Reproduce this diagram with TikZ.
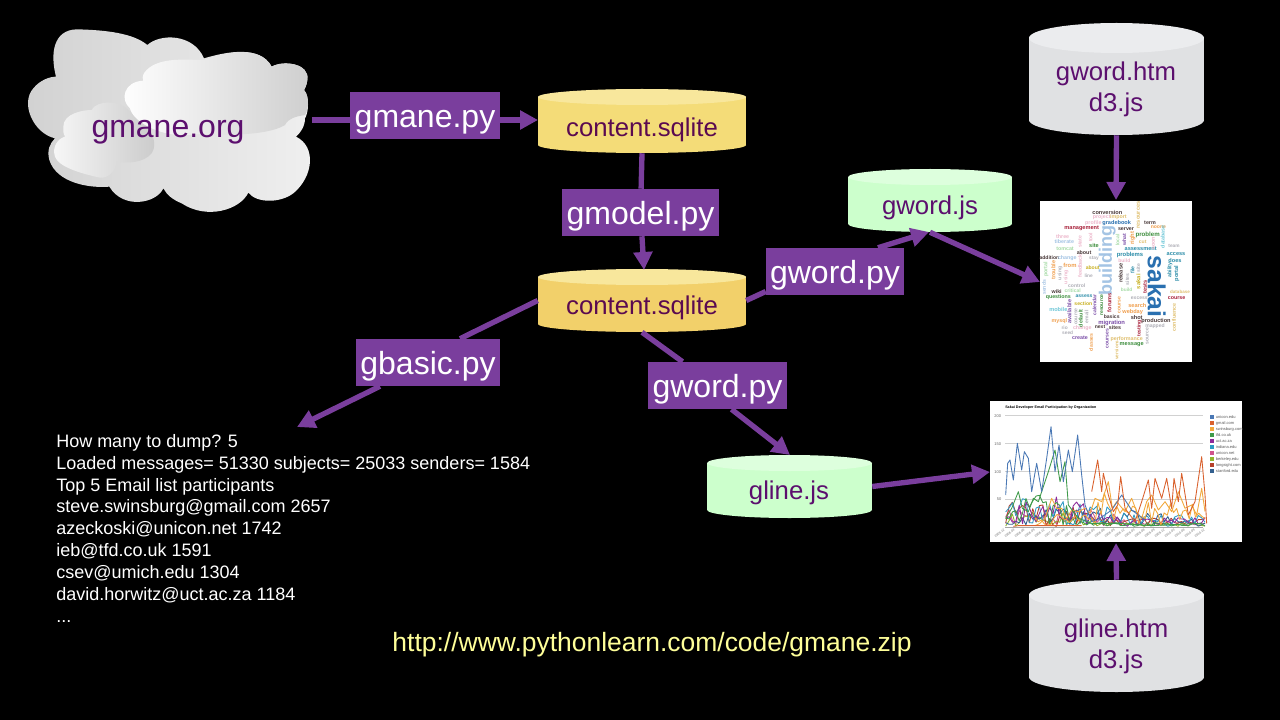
\documentclass[tikz,border=0pt]{standalone}
\usepackage{fontspec}
\setmainfont{Liberation Sans}
\usetikzlibrary{arrows.meta,calc}
\definecolor{pur}{HTML}{7A3E9D}
\definecolor{ptext}{HTML}{5C0F6E}
\definecolor{ptextb}{HTML}{5A0A50}
\definecolor{ylw}{HTML}{F4DC78}
\definecolor{ylwb}{HTML}{F2D06A}
\definecolor{ylwtop}{HTML}{F8E79C}
\definecolor{grn}{HTML}{CCFFCC}
\definecolor{grntop}{HTML}{DDFFDD}
\definecolor{gry}{HTML}{E0E1E3}
\definecolor{grytop}{HTML}{EBECEE}
\definecolor{urlc}{HTML}{FFFF99}
\definecolor{ca}{HTML}{4A78B5}
\definecolor{cb}{HTML}{D9602C}
\definecolor{cc}{HTML}{F2A83B}
\definecolor{cd}{HTML}{3F9A4A}
\definecolor{ce}{HTML}{8E2A9A}
\definecolor{cf}{HTML}{2E9BC4}
\definecolor{cg}{HTML}{D0548C}
\definecolor{ch}{HTML}{8DB52C}
\definecolor{ci}{HTML}{B5402A}
\definecolor{cj}{HTML}{33608F}
\definecolor{wblue}{HTML}{2A70B0}
\definecolor{wlblue}{HTML}{A4C4E4}
\definecolor{wpink}{HTML}{EDB8CC}
\definecolor{wtan}{HTML}{E0C070}
\definecolor{wred}{HTML}{A8203A}
\definecolor{wdark}{HTML}{4A3A3A}
\definecolor{wgreen}{HTML}{3E8E3E}
\definecolor{wlgreen}{HTML}{A8DCA8}
\definecolor{wteal}{HTML}{2A8CA8}
\definecolor{wpurple}{HTML}{7B4EA8}
\definecolor{worange}{HTML}{F0A050}
\definecolor{wgray}{HTML}{B0B0B8}
\definecolor{wcyan}{HTML}{70C8D8}
\definecolor{wolive}{HTML}{C8B020}
\tikzset{
  x=.75pt,y=-.75pt,
  conn/.style={draw=pur,line width=4pt},
  arr/.style={conn,-{Triangle[length=13.5pt,width=13.8pt]}},
  pybox/.style={fill=pur,text=white,inner sep=0pt,text height=18.5pt,text depth=0pt,font=\fontsize{24}{24}\selectfont},
  cyltext/.style={text=ptext,inner sep=0pt,align=center,font=\fontsize{19.3}{23.3}\selectfont},
  cylbox/.style={inner sep=0pt},
  legtext/.style={text=black!65,inner sep=0pt,anchor=west,font=\fontsize{3}{3}\selectfont},
  ticklab/.style={text=black!60,inner sep=0pt,font=\fontsize{3}{3}\selectfont},
  xticklab/.style={text=black!60,inner sep=0pt,font=\fontsize{2.3}{2.3}\selectfont},
  sline/.style={line width=.65pt,line join=round}
}
% name, x1, y1, x2, y2, ry, body, top
\newcommand{\cylshape}[8]{%
  \pgfmathsetmacro{\cxv}{(#2+#4)/2}\pgfmathsetmacro{\cyv}{(#3+#5)/2}%
  \pgfmathsetmacro{\rxv}{(#4-#2)/2}%
  \fill[#7] (#2,#3+#6) rectangle (#4,#5-#6);
  \fill[#7] (\cxv,#5-#6) ellipse [x radius=\rxv,y radius=#6];
  \fill[#8] (\cxv,#3+#6) ellipse [x radius=\rxv,y radius=#6];
  \node[cylbox,minimum width={(#4-#2)*.75pt},minimum height={(#5-#3)*.75pt}] (#1) at (\cxv,\cyv) {};
}
\newcommand{\cw}[6]{\node[inner sep=0pt,text=#5,rotate=#3,font=\bfseries\fontsize{#4}{#4}\selectfont] at (#1,#2) {#6};}
\begin{document}
\begin{tikzpicture}
\useasboundingbox (0,0) rectangle (1280,720);
\fill[black] (0,0) rectangle (1280,720);

% cloud
\begin{scope}[shift={(0,10)},x=.25pt,y=-.25pt]
\shade[left color=black!18,right color=black!6]
 (168,200) .. controls (150,130) and (160,60) .. (230,58)
 .. controls (320,60) and (400,70) .. (442,105)
 .. controls (480,70) and (580,70) .. (612,145)
 .. controls (680,125) and (780,105) .. (815,170)
 .. controls (850,150) and (930,160) .. (922,210)
 .. controls (920,225) and (915,235) .. (912,240)
 .. controls (930,260) and (925,310) .. (915,325)
 .. controls (915,350) and (900,370) .. (888,380)
 .. controls (950,410) and (940,500) .. (880,550)
 .. controls (840,580) and (770,580) .. (745,548)
 .. controls (720,600) and (620,630) .. (545,580)
 .. controls (520,570) and (500,555) .. (490,535)
 .. controls (470,580) and (370,600) .. (328,530)
 .. controls (270,535) and (170,520) .. (148,450)
 .. controls (140,420) and (150,400) .. (165,385)
 .. controls (100,370) and (60,280) .. (100,235)
 .. controls (120,210) and (150,200) .. (168,200) -- cycle;
\shade[left color=black!3,right color=black!21]
 (190,350) .. controls (190,310) and (250,300) .. (275,300)
 .. controls (290,270) and (360,270) .. (385,300)
 .. controls (440,330) and (480,390) .. (455,430)
 .. controls (430,460) and (380,460) .. (350,455)
 .. controls (345,490) and (320,505) .. (300,503)
 .. controls (240,490) and (175,470) .. (165,440)
 .. controls (155,410) and (175,385) .. (195,380)
 .. controls (190,370) and (188,360) .. (190,350) -- cycle;
\shade[left color=white,right color=black!19]
 (440,180) .. controls (480,140) and (560,150) .. (612,150)
 .. controls (680,125) and (780,105) .. (815,170)
 .. controls (850,150) and (930,160) .. (922,210)
 .. controls (920,225) and (915,235) .. (912,240)
 .. controls (930,260) and (925,300) .. (915,315)
 .. controls (885,320) and (865,325) .. (855,345)
 .. controls (800,380) and (650,375) .. (590,372)
 .. controls (500,390) and (400,340) .. (390,295)
 .. controls (360,270) and (370,215) .. (430,212)
 .. controls (425,200) and (430,190) .. (440,180) -- cycle;
\end{scope}
\node[inner sep=0pt,text=ptext,font=\fontsize{24}{24}\selectfont] (org) at (168,132) {gmane.org};

% cylinders
\cylshape{ca1}{538}{89}{746}{153}{8}{ylw}{ylwtop}
\cylshape{ca2}{538}{269}{746}{332}{8}{ylwb}{ylwtop}
\cylshape{gwj}{848}{169}{1012}{232}{8}{grn}{grntop}
\cylshape{glj}{707}{455}{872}{518}{8}{grn}{grntop}
\cylshape{gwh}{1029}{23}{1204}{135}{15}{gry}{grytop}
\cylshape{glh}{1029}{580}{1204}{692}{15}{gry}{grytop}
\node[cyltext,text=ptextb] (ca1t) at (642,130) {content.sqlite};
\node[cyltext,text=ptextb] (ca2t) at (642,308) {content.sqlite};
\node[cyltext] (gwjt) at (930,208) {gword.js};
\node[cyltext] (gljt) at (789,493) {gline.js};
\node[cyltext] (gwht) at (1116,89) {gword.htm\\d3.js};
\node[cyltext] (glht) at (1116,646) {gline.htm\\d3.js};

% pictures
\node[fill=white,inner sep=0pt,minimum width=114pt,minimum height=120.75pt] (wc) at (1116,281.5) {};
\node[fill=white,inner sep=0pt,minimum width=189pt,minimum height=105.75pt] (chart) at (1116,471.5) {};

% word cloud
\begin{scope}[shift={(1030,190)},x=.25pt,y=-.25pt]
\cw{380}{290}{-90}{18.5}{wblue}{sakai}
\cw{232}{212}{90}{13.5}{wlblue}{building}
\cw{232}{66}{0}{4.2}{wdark}{conversion}
\cw{215}{82}{0}{4}{wpink}{project}
\cw{265}{82}{0}{4}{wtan}{import}
\cw{190}{99}{0}{4}{wpink}{profile}
\cw{260}{100}{0}{4.2}{wblue}{gradebook}
\cw{360}{97}{0}{4}{wdark}{term}
\cw{385}{112}{0}{3.8}{worange}{noone}
\cw{155}{116}{0}{4.2}{wred}{management}
\cw{288}{117}{0}{4}{wdark}{server}
\cw{353}{134}{0}{4.6}{wgreen}{problem}
\cw{98}{139}{0}{4}{wpink}{three}
\cw{103}{156}{0}{4}{wlblue}{tiberate}
\cw{192}{167}{0}{4.2}{wgreen}{site}
\cw{105}{176}{0}{4}{wlgreen}{tomcat}
\cw{338}{156}{0}{3.8}{wtan}{cut}
\cw{332}{176}{0}{4.2}{wteal}{assessment}
\cw{162}{188}{0}{4}{wdark}{about}
\cw{300}{195}{0}{4.4}{wteal}{problems}
\cw{438}{193}{0}{4.2}{wteal}{access}
\cw{432}{168}{0}{3.6}{wgray}{team}
\cw{58}{203}{0}{3.8}{wdark}{addition}
\cw{112}{204}{0}{4}{wlblue}{change}
\cw{192}{204}{0}{3.6}{wgray}{stay}
\cw{435}{211}{0}{4.2}{wteal}{does}
\cw{120}{225}{0}{4.4}{worange}{from}
\cw{188}{232}{0}{3.8}{wolive}{about}
\cw{176}{256}{0}{3.6}{wgray}{line}
\cw{283}{212}{0}{3.8}{wpink}{build}
\cw{290}{298}{0}{3.6}{wlgreen}{build}
\cw{140}{288}{0}{3.8}{wgray}{control}
\cw{128}{303}{0}{3.8}{wlgreen}{critical}
\cw{80}{304}{0}{4}{wdark}{wiki}
\cw{85}{321}{0}{4}{wgreen}{questions}
\cw{162}{318}{0}{3.8}{wteal}{assess}
\cw{160}{342}{0}{3.8}{wolive}{section}
\cw{85}{357}{0}{4.2}{wcyan}{mobile}
\cw{88}{394}{0}{4}{worange}{mysql}
\cw{104}{412}{0}{3.6}{wgray}{rio}
\cw{113}{428}{0}{3.6}{wgray}{seed}
\cw{157}{413}{0}{4}{wpink}{change}
\cw{150}{442}{0}{4}{wpurple}{create}
\cw{210}{412}{0}{3.8}{wdark}{next}
\cw{245}{380}{0}{3.8}{wdark}{basics}
\cw{245}{398}{0}{4.4}{wpurple}{migration}
\cw{255}{414}{0}{4}{wdark}{sites}
\cw{328}{323}{0}{3.8}{wgray}{excess}
\cw{322}{347}{0}{4.2}{worange}{search}
\cw{308}{367}{0}{4.2}{worange}{webday}
\cw{320}{383}{0}{4.2}{wdark}{shot}
\cw{378}{392}{0}{4.2}{wdark}{production}
\cw{375}{408}{0}{3.8}{wgray}{mapped}
\cw{450}{305}{0}{3.4}{wtan}{database}
\cw{440}{325}{0}{4}{wred}{course}
\cw{290}{448}{0}{4}{wtan}{performance}
\cw{305}{464}{0}{4.2}{wgreen}{message}
\cw{325}{75}{90}{4.2}{wtan}{resources}
\cw{263}{150}{90}{3.8}{wlgreen}{local}
\cw{283}{150}{90}{3.8}{wpurple}{what}
\cw{308}{145}{90}{4.4}{worange}{right}
\cw{182}{142}{90}{3.8}{wpink}{tool}
\cw{150}{155}{90}{3.8}{wpink}{state}
\cw{370}{160}{90}{4}{wpink}{soon}
\cw{398}{140}{90}{4}{wcyan}{database}
\cw{150}{228}{90}{4}{wpink}{feedback}
\cw{48}{238}{90}{4}{wlgreen}{portal}
\cw{70}{240}{90}{4.2}{worange}{trouble}
\cw{90}{250}{90}{3.8}{wgray}{using}
\cw{108}{262}{90}{3.8}{wpink}{using}
\cw{272}{250}{90}{4.2}{wdark}{release}
\cw{292}{268}{90}{3.8}{wgray}{sites}
\cw{308}{240}{90}{3.8}{wteal}{file}
\cw{325}{275}{90}{4.4}{wolive}{sakai}
\cw{325}{235}{90}{3.8}{wgray}{site}
\cw{345}{290}{90}{4.2}{wred}{tests}
\cw{420}{240}{90}{4}{wteal}{ability}
\cw{440}{250}{90}{4.2}{wteal}{portal}
\cw{42}{292}{90}{3.8}{wlblue}{sends}
\cw{118}{365}{90}{4.2}{wpurple}{available}
\cw{138}{380}{90}{3.8}{wgray}{course}
\cw{152}{385}{90}{4}{wgreen}{default}
\cw{170}{380}{90}{3.8}{wgray}{email}
\cw{194}{345}{90}{3.8}{wpurple}{calendar}
\cw{215}{345}{90}{3.8}{wgreen}{resource}
\cw{238}{338}{90}{4.2}{wred}{forums}
\cw{268}{345}{90}{3.8}{worange}{course}
\cw{328}{415}{90}{3.8}{wred}{testing}
\cw{352}{438}{90}{3.8}{wgray}{source}
\cw{432}{382}{90}{4}{wtan}{confluence}
\cw{183}{458}{90}{3.8}{worange}{classes}
\cw{232}{445}{90}{3.8}{wpurple}{courses}
\cw{260}{480}{90}{3.5}{wtan}{versions}
\end{scope}

% chart
\begin{scope}[shift={(985,395)},x=.25pt,y=-.25pt]
\foreach \gy in {62,146,230,313} \draw[black!18,line width=.3pt] (60,\gy) -- (655,\gy);
\draw[black!35,line width=.3pt] (60,396) -- (655,396);
\node[inner sep=0pt,text=black,font=\bfseries\fontsize{2.75}{2.75}\selectfont,anchor=west] at (60,37) {Sakai Developer Email Participation by Organization};
\node[ticklab] at (38,62) {200};
\node[ticklab] at (38,146) {150};
\node[ticklab] at (38,230) {100};
\node[ticklab] at (42,313) {50};
\pgfmathsetseed{4217}
\foreach \cl/\amp/\cen/\wid/\base in {cg/40/200/250/20,ch/35/180/220/12,ci/60/140/190/25,cj/30/300/300/25,cf/55/180/260/35,ce/60/200/190/30,cd/90/170/120/12}{
  \draw[sline,\cl] plot[samples=60,domain=62:660] (\x,{394-rnd*(\base+\amp*max(0,1-((\x-\cen)/\wid)^2))});
}
\draw[sline,cc] plot[samples=55,domain=150:660] (\x,{392-rnd*(25+70*((\x-150)/510)+55*max(0,1-((\x-380)/60)^2))});
\draw[sline,cc] (150,392)--(165,385)--(180,370)--(190,340)--(200,310)--(215,340)--(230,340)--(245,370)--(260,345)--(280,350)--(300,340)--(315,355)--(330,310)--(350,320)--(370,260)--(382,340)--(395,320)--(420,350)--(440,310)--(455,350)--(470,370)--(485,320)--(500,300)--(520,345)--(540,320)--(560,350)--(580,290)--(600,340)--(620,330)--(635,360)--(650,280)--(660,350);
\draw[sline,cd] (62,370)--(80,340)--(100,290)--(112,340)--(130,350)--(145,310)--(160,320)--(190,230)--(210,165)--(225,260)--(240,200)--(250,330)--(265,350)--(280,370)--(320,385)--(400,385)--(500,392)--(580,388)--(650,385);
\draw[sline,ca] (62,300)--(68,205)--(75,195)--(85,255)--(97,145)--(110,225)--(118,170)--(130,190)--(140,290)--(155,205)--(170,290)--(185,190)--(198,95)--(210,230)--(222,150)--(235,260)--(250,165)--(262,230)--(278,120)--(290,240)--(300,330)--(320,380)--(345,370)--(380,345)--(410,300)--(440,345)--(480,375);
\draw[sline,cb] (85,394)--(100,392)--(290,392) (320,290)--(338,195)--(350,290)--(355,235)--(370,300)--(385,350)--(398,330)--(407,245)--(420,340)--(435,360)--(450,380)--(470,320)--(490,255)--(500,340)--(510,250)--(530,310)--(545,250)--(560,340)--(567,250)--(580,320)--(590,235)--(610,360)--(630,320)--(650,185)--(660,300)--(665,385);
\foreach \i/\cl/\lab in {0/ca/unicon.edu,1/cb/gmail.com,2/cc/swinsburg.com,3/cd/tfd.co.uk,4/ce/uct.ac.za,5/cf/indiana.edu,6/cg/unicon.net,7/ch/berkeley.edu,8/ci/longsight.com,9/cj/stanford.edu}{
  \fill[\cl] (675,{61+\i*18}) rectangle (687,{72+\i*18});
  \node[legtext] at (692,{66.5+\i*18}) {\lab};
}
\foreach \i/\lab in {0/2005-12,1/2006-03,2/2006-06,3/2006-09,4/2006-12,5/2007-03,6/2007-06,7/2007-09,8/2007-12,9/2008-03,10/2008-06,11/2008-09,12/2008-12,13/2009-03,14/2009-06,15/2009-09,16/2009-12,17/2010-03,18/2010-06,19/2010-09,20/2010-12}{
  \node[xticklab,rotate=35] at ({44+\i*30},414) {\lab};
}
\end{scope}

% connector ends
\coordinate (orgout) at (312,120);
\coordinate (gwin) at (538,120);
\coordinate (ca2top) at (644,270);
\coordinate (logtip) at (297,427);
\coordinate (gwjtip) at (929,232);
\coordinate (wcin) at (1040,282);
\coordinate (gljtip) at (790,455);
\coordinate (chartin) at (990,472);
\coordinate (wctop) at (1116,200);
\coordinate (chartbot) at (1116,543);

% boxes
\node[pybox,minimum width=112.5pt,minimum height=35.25pt] (gpy) at (425,115.5) {gmane.py};
\node[pybox,minimum width=117.75pt,minimum height=35.25pt] (gmod) at (640.5,212.5) {gmodel.py};
\node[pybox,minimum width=103.5pt,minimum height=35.25pt] (gw1) at (835,271.5) {gword.py};
\node[pybox,minimum width=108pt,minimum height=35.25pt] (gbas) at (428,362.5) {gbasic.py};
\node[pybox,minimum width=104.25pt,minimum height=35.25pt] (gw2) at (717.5,385.5) {gword.py};

% connectors
\draw[conn] (orgout) -- (orgout -| gpy.west);
\draw[arr] (gwin -| gpy.east) -- (gwin);
\draw[conn] (ca1.south) -- (gmod);
\draw[arr] (gmod) -- (ca2top);
\draw[conn] (ca2.west) -- ($(gbas.north)+(32,0)$);
\draw[arr] ($(gbas.south)+(-48,0)$) -- (logtip);
\draw[conn] (ca2.east) -- ($(gw1.west)+(0,20)$);
\draw[arr] ($(gw1.north)+(43,0)$) -- (gwjtip);
\draw[arr] (gwj.south) -- (wcin);
\draw[conn] (ca2.south) -- ($(gw2.north)+(-35,0)$);
\draw[arr] ($(gw2.south)+(14,0)$) -- (gljtip);
\draw[arr] (glj.east) -- (chartin);
\draw[arr] (gwh.south) -- (wctop);
\draw[arr] (glh.north) -- (chartbot);

% log text
\node[anchor=north west,inner sep=0pt,text=white,align=left,font=\fontsize{13.5}{16.4}\selectfont] (log) at (56,434) {How many to dump? 5\\Loaded messages= 51330 subjects= 25033 senders= 1584\\Top 5 Email list participants\\steve.swinsburg@gmail.com 2657\\azeckoski@unicon.net 1742\\ieb@tfd.co.uk 1591\\csev@umich.edu 1304\\david.horwitz@uct.ac.za 1184\\...};
\node[inner sep=0pt,text=urlc,font=\fontsize{19.84}{23}\selectfont] (zip) at (652,645) {http://www.pythonlearn.com/code/gmane.zip};
\end{tikzpicture}
\end{document}
